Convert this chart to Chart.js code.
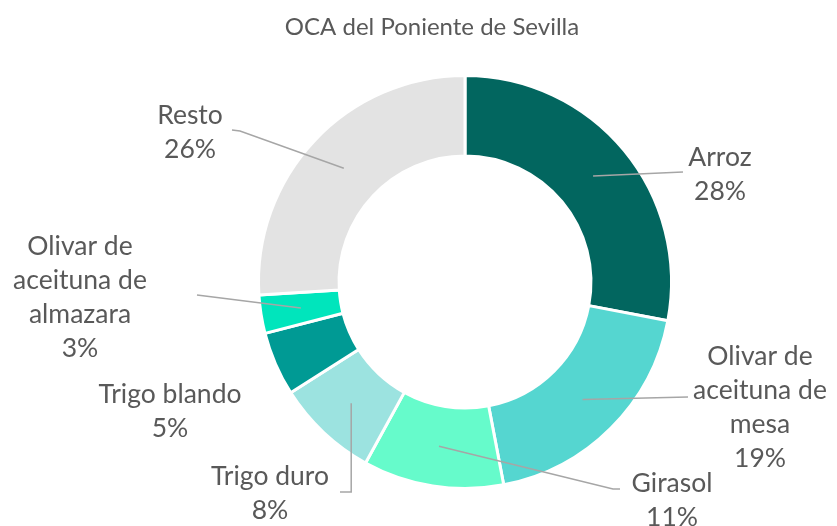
<!DOCTYPE html>
<html>
<head>
<meta charset="utf-8">
<script src="https://cdn.jsdelivr.net/npm/chart.js@4.4.1/dist/chart.umd.min.js"></script>
<style>
  html, body { margin: 0; padding: 0; background: #fff; }
</style>
</head>
<body>
<canvas id="chart" width="837" height="526"></canvas>
<script>
const chartTitle = 'OCA del Poniente de Sevilla';
const categories = ['Arroz', 'Olivar de aceituna de mesa', 'Girasol', 'Trigo duro', 'Trigo blando', 'Olivar de aceituna de almazara', 'Resto'];
const shares = [28, 19, 11, 8, 5, 3, 26];
const sliceColors = ['#02665f', '#55d6d0', '#66fbcb', '#9ce3e0', '#009a94', '#00e5bc', '#e3e3e3'];
// wrapped label text, as shown next to each slice
const labelLines = [
  ['Arroz'],
  ['Olivar de', 'aceituna de', 'mesa'],
  ['Girasol'],
  ['Trigo duro'],
  ['Trigo blando'],
  ['Olivar de', 'aceituna de', 'almazara'],
  ['Resto']
];

// where each label sits and how its leader line bends (after leaving the slice)
const labelPlacement = [
  { x: 720, y: 157, leader: [[683, 172]] },
  { x: 760, y: 356, leader: [[688, 397]] },
  { x: 672, y: 483, leader: [[613, 489], [620, 489]] },
  { x: 270, y: 476, leader: 'down', elbow: [[352, 492], [340, 492]] },
  { x: 170, y: 394, leader: null },
  { x: 80, y: 246, leader: [[197, 295]] },
  { x: 190, y: 115, leader: [[240, 131], [232, 130]] }
];

const textColor = '#595959';
const lineGap = 34;

const outerLabels = {
  id: 'outerLabels',
  afterDatasetsDraw(chart) {
    const ctx = chart.ctx;
    const arcs = chart.getDatasetMeta(0).data;
    ctx.save();

    // title
    ctx.fillStyle = textColor;
    ctx.font = '24px Lato';
    ctx.textAlign = 'center';
    ctx.textBaseline = 'middle';
    ctx.fillText(chartTitle, 432, 27);

    // leader lines
    ctx.strokeStyle = '#a6a6a6';
    ctx.lineWidth = 1.5;
    arcs.forEach((arc, i) => {
      const p = labelPlacement[i];
      const start = arc.tooltipPosition();
      let pts = null;
      if (p.leader === 'down') {
        pts = [[start.x, start.y]].concat(p.elbow.map((q, k) => k === 0 ? [start.x, q[1]] : q));
      } else if (p.leader) {
        pts = [[start.x, start.y]].concat(p.leader);
      }
      if (!pts) return;
      ctx.beginPath();
      ctx.moveTo(pts[0][0], pts[0][1]);
      for (let k = 1; k < pts.length; k++) ctx.lineTo(pts[k][0], pts[k][1]);
      ctx.stroke();
    });

    // label text
    ctx.font = '26.5px Lato';
    ctx.fillStyle = textColor;
    arcs.forEach((arc, i) => {
      const p = labelPlacement[i];
      const lines = labelLines[i].concat([shares[i] + '%']);
      lines.forEach((t, k) => ctx.fillText(t, p.x, p.y + k * lineGap));
    });
    ctx.restore();
  }
};

new Chart(document.getElementById('chart'), {
  type: 'doughnut',
  data: {
    labels: categories,
    datasets: [{
      data: shares,
      backgroundColor: sliceColors,
      borderColor: '#ffffff',
      borderWidth: 3,
      hoverOffset: 0
    }]
  },
  options: {
    responsive: false,
    animation: false,
    cutout: '61%',
    layout: { padding: { top: 74, bottom: 36, left: 257, right: 164 } },
    plugins: {
      legend: { display: false },
      title: { display: false },
      tooltip: { enabled: false }
    }
  },
  plugins: [outerLabels]
});
</script>
</body>
</html>
